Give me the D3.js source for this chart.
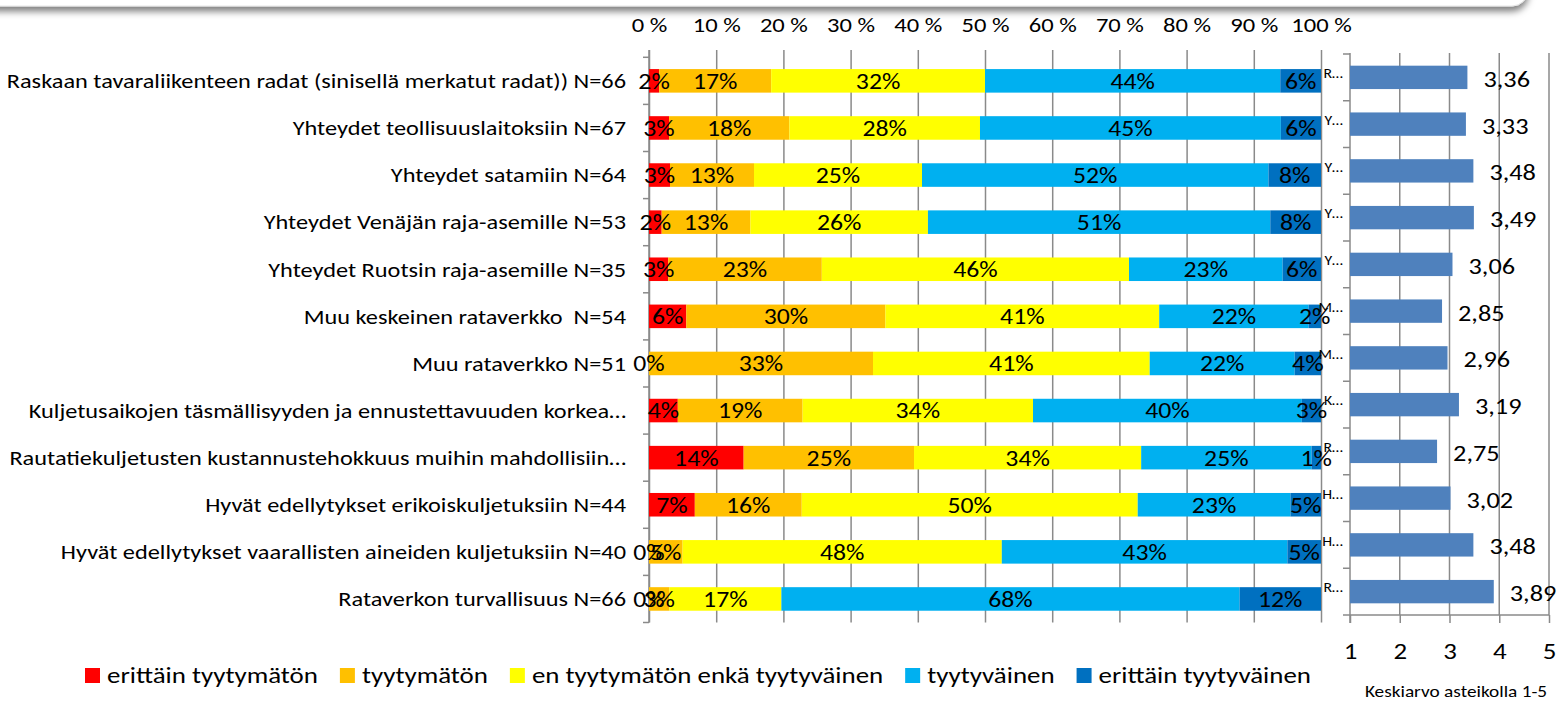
<!DOCTYPE html>
<html>
<head>
<meta charset="utf-8">
<script src="https://cdn.jsdelivr.net/npm/d3@7"></script>
<style>
  body { margin: 0; background: #fff; }
  svg { display: block; }
  text { font-family: Carlito, Calibri, Lato, sans-serif; fill: #000; }
</style>
</head>
<body>
<svg width="1559" height="701"></svg>
<script>
// categories, top to bottom
const categories = [
  "Raskaan tavaraliikenteen radat (sinisellä merkatut radat)) N=66",
  "Yhteydet teollisuuslaitoksiin N=67",
  "Yhteydet satamiin N=64",
  "Yhteydet Venäjän raja-asemille N=53",
  "Yhteydet Ruotsin raja-asemille N=35",
  "Muu keskeinen rataverkko  N=54",
  "Muu rataverkko N=51",
  "Kuljetusaikojen täsmällisyyden ja ennustettavuuden korkea…",
  "Rautatiekuljetusten kustannustehokkuus muihin mahdollisiin…",
  "Hyvät edellytykset erikoiskuljetuksiin N=44",
  "Hyvät edellytykset vaarallisten aineiden kuljetuksiin N=40",
  "Rataverkon turvallisuus N=66"
];

const levels = ["erittäin tyytymätön", "tyytymätön", "en tyytymätön enkä tyytyväinen", "tyytyväinen", "erittäin tyytyväinen"];
const colors = ["#FF0000", "#FFC000", "#FFFF00", "#00B0F0", "#0070C0"];

// answer counts per level (same order as categories)
const veryDissatisfied = [1, 2, 2, 1, 1, 3, 0, 3, 10, 3, 0, 0];
const dissatisfied     = [11, 12, 8, 7, 8, 16, 17, 13, 18, 7, 2, 2];
const neutral          = [21, 19, 16, 14, 16, 22, 21, 24, 24, 22, 19, 11];
const satisfied        = [29, 30, 33, 27, 8, 12, 11, 28, 18, 10, 17, 45];
const verySatisfied    = [4, 4, 5, 4, 2, 1, 2, 2, 1, 2, 2, 8];

// mean on scale 1-5
const means = [3.36, 3.33, 3.48, 3.49, 3.06, 2.85, 2.96, 3.19, 2.75, 3.02, 3.48, 3.89];

const pctTicks = [0, 0.1, 0.2, 0.3, 0.4, 0.5, 0.6, 0.7, 0.8, 0.9, 1];
const meanTicks = [1, 2, 3, 4, 5];

const svg = d3.select("svg");
const grid = "#8a8a8a";
const SX = 1.17; // the original picture is stretched sideways

function stretch(sel, fx, fy) {
  sel.attr("transform", (d, i) => `translate(${fx(d, i)},${fy(d, i)}) scale(${SX},1)`);
}

// slide header box with shadow at the top
const defs = svg.append("defs");
defs.append("filter")
   .attr("id", "shadow")
   .attr("x", "-5%").attr("y", "-50%").attr("width", "110%").attr("height", "200%")
   .append("feDropShadow")
   .attr("dx", 0).attr("dy", 5)
   .attr("stdDeviation", 3.5)
   .attr("flood-color", "#000")
   .attr("flood-opacity", 0.5);

svg.append("rect")
   .attr("x", -40).attr("y", -60)
   .attr("width", 1568).attr("height", 66)
   .attr("rx", 16)
   .attr("fill", "#fff")
   .attr("stroke", "#e6e6e6")
   .attr("filter", "url(#shadow)");

// table for the stack
const series = [veryDissatisfied, dissatisfied, neutral, satisfied, verySatisfied];
const table = categories.map((c, i) => {
  const row = { name: c };
  levels.forEach((l, j) => row[l] = series[j][i]);
  row.total = d3.sum(series, s => s[i]);
  return row;
});
const stacked = d3.stack().keys(levels).offset(d3.stackOffsetExpand)(table);

// left chart scales
const x = d3.scaleLinear().domain([0, 1]).range([649, 1321]);
const y = d3.scaleBand().domain(categories).range([57.3, 622.5])
   .paddingInner(0.5).paddingOuter(0.25);

// top axis with gridlines
const xAxis = svg.append("g")
   .attr("transform", "translate(0,50)")
   .call(d3.axisTop(x)
      .tickValues(pctTicks)
      .tickSize(-(622.5 - 50))
      .tickPadding(18)
      .tickFormat(d => Math.round(d * 100) + " %"));
xAxis.select(".domain").remove();
xAxis.selectAll(".tick line").attr("stroke", grid).attr("stroke-width", 1.5);
xAxis.selectAll(".tick text")
   .attr("font-size", 21)
   .attr("transform", `scale(${SX},1)`)
   .style("font-family", null);

// left category axis
svg.append("line")
   .attr("x1", x(0)).attr("x2", x(0))
   .attr("y1", 50).attr("y2", 622.5)
   .attr("stroke", grid).attr("stroke-width", 1.5);
svg.append("g").selectAll("line")
   .data(d3.range(categories.length + 1))
   .join("line")
   .attr("x1", x(0) - 6).attr("x2", x(0))
   .attr("y1", i => y.range()[0] + i * y.step())
   .attr("y2", i => y.range()[0] + i * y.step())
   .attr("stroke", grid).attr("stroke-width", 1.5);

svg.append("g").selectAll("text")
   .data(categories)
   .join("text")
   .attr("dy", "0.35em")
   .attr("text-anchor", "end")
   .attr("font-size", 20.8)
   .style("white-space", "pre")
   .text(d => d)
   .call(stretch, () => 626, d => y(d) + y.bandwidth() / 2);

// stacked bars
const layer = svg.append("g").selectAll("g")
   .data(stacked)
   .join("g")
   .attr("fill", (d, i) => colors[i]);
layer.selectAll("rect")
   .data(d => d)
   .join("rect")
   .attr("x", d => x(d[0]))
   .attr("y", d => y(d.data.name))
   .attr("width", d => x(d[1]) - x(d[0]))
   .attr("height", y.bandwidth());

// segment labels
const labels = svg.append("g").selectAll("g")
   .data(stacked)
   .join("g");
labels.selectAll("text")
   .data(d => d.map(v => ({ v, key: d.key })))
   .join("text")
   .attr("dy", "0.36em")
   .attr("text-anchor", "middle")
   .attr("font-size", 22)
   .text(d => Math.round(d.v.data[d.key] * 100 / d.v.data.total) + "%")
   .call(stretch, d => x((d.v[0] + d.v[1]) / 2), d => y(d.v.data.name) + y.bandwidth() / 2);

// right chart: means
const xm = d3.scaleLinear().domain([1, 5]).range([1350, 1549]);
const ym = d3.scaleBand().domain(categories).range([54, 615])
   .paddingInner(0.5).paddingOuter(0.25);

svg.append("g").selectAll("line")
   .data(meanTicks.slice(1))
   .join("line")
   .attr("x1", d => xm(d)).attr("x2", d => xm(d))
   .attr("y1", 53).attr("y2", 615)
   .attr("stroke", grid).attr("stroke-width", 1.5);

const mAxis = svg.append("g")
   .attr("transform", "translate(0,615)")
   .call(d3.axisBottom(xm).tickValues(meanTicks).tickSize(8).tickPadding(20).tickFormat(d3.format("d")));
mAxis.select(".domain").attr("stroke", grid).attr("stroke-width", 1.5).attr("d", `M${xm(1) - 7},0H${xm(5)}`);
mAxis.selectAll(".tick line").attr("stroke", grid).attr("stroke-width", 1.5);
mAxis.selectAll(".tick text")
   .attr("font-size", 23)
   .attr("transform", `scale(${SX},1)`)
   .style("font-family", null);

svg.append("line")
   .attr("x1", xm(1)).attr("x2", xm(1))
   .attr("y1", 53).attr("y2", 623)
   .attr("stroke", grid).attr("stroke-width", 1.5);
svg.append("g").selectAll("line")
   .data(d3.range(categories.length))
   .join("line")
   .attr("x1", xm(1) - 7).attr("x2", xm(1))
   .attr("y1", i => ym.range()[0] + i * ym.step())
   .attr("y2", i => ym.range()[0] + i * ym.step())
   .attr("stroke", grid).attr("stroke-width", 1.5);

svg.append("g").selectAll("rect")
   .data(means)
   .join("rect")
   .attr("x", xm(1))
   .attr("y", (d, i) => ym(categories[i]))
   .attr("width", d => xm(d) - xm(1))
   .attr("height", ym.bandwidth())
   .attr("fill", "#4F81BD");

const fi = d3.formatLocale({ decimal: ",", thousands: " ", grouping: [3], currency: ["", "€"] });
svg.append("g").selectAll("text")
   .data(means)
   .join("text")
   .attr("dy", "0.36em")
   .attr("font-size", 22.5)
   .text(fi.format(".2f"))
   .call(stretch, d => xm(d) + 16, (d, i) => ym(categories[i]) + ym.bandwidth() / 2 + 1.5);

// truncated category labels of the right chart
svg.append("g").selectAll("text")
   .data(categories)
   .join("text")
   .attr("dy", "0.35em")
   .attr("text-anchor", "end")
   .attr("font-size", 13.5)
   .text(d => d[0] + "…")
   .call(stretch, () => 1343, d => ym(d) + ym.bandwidth() / 2 - 4);

svg.append("text")
   .attr("dy", "0.35em")
   .attr("text-anchor", "middle")
   .attr("font-size", 16.5)
   .text("Keskiarvo asteikolla 1-5")
   .call(stretch, () => 1456, () => 691);

// legend
const legend = svg.append("g").attr("transform", "translate(85,675)");
let lx = 0;
levels.forEach((l, i) => {
  const g = legend.append("g").attr("transform", `translate(${lx},0)`);
  g.append("rect").attr("x", 0).attr("y", -7).attr("width", 15).attr("height", 15).attr("fill", colors[i]);
  const t = g.append("text")
     .attr("dy", "0.35em")
     .attr("font-size", 23)
     .attr("transform", `translate(22,0) scale(${SX},1)`)
     .text(l);
  lx += 22 + t.node().getComputedTextLength() * SX + 22;
});
</script>
</body>
</html>
